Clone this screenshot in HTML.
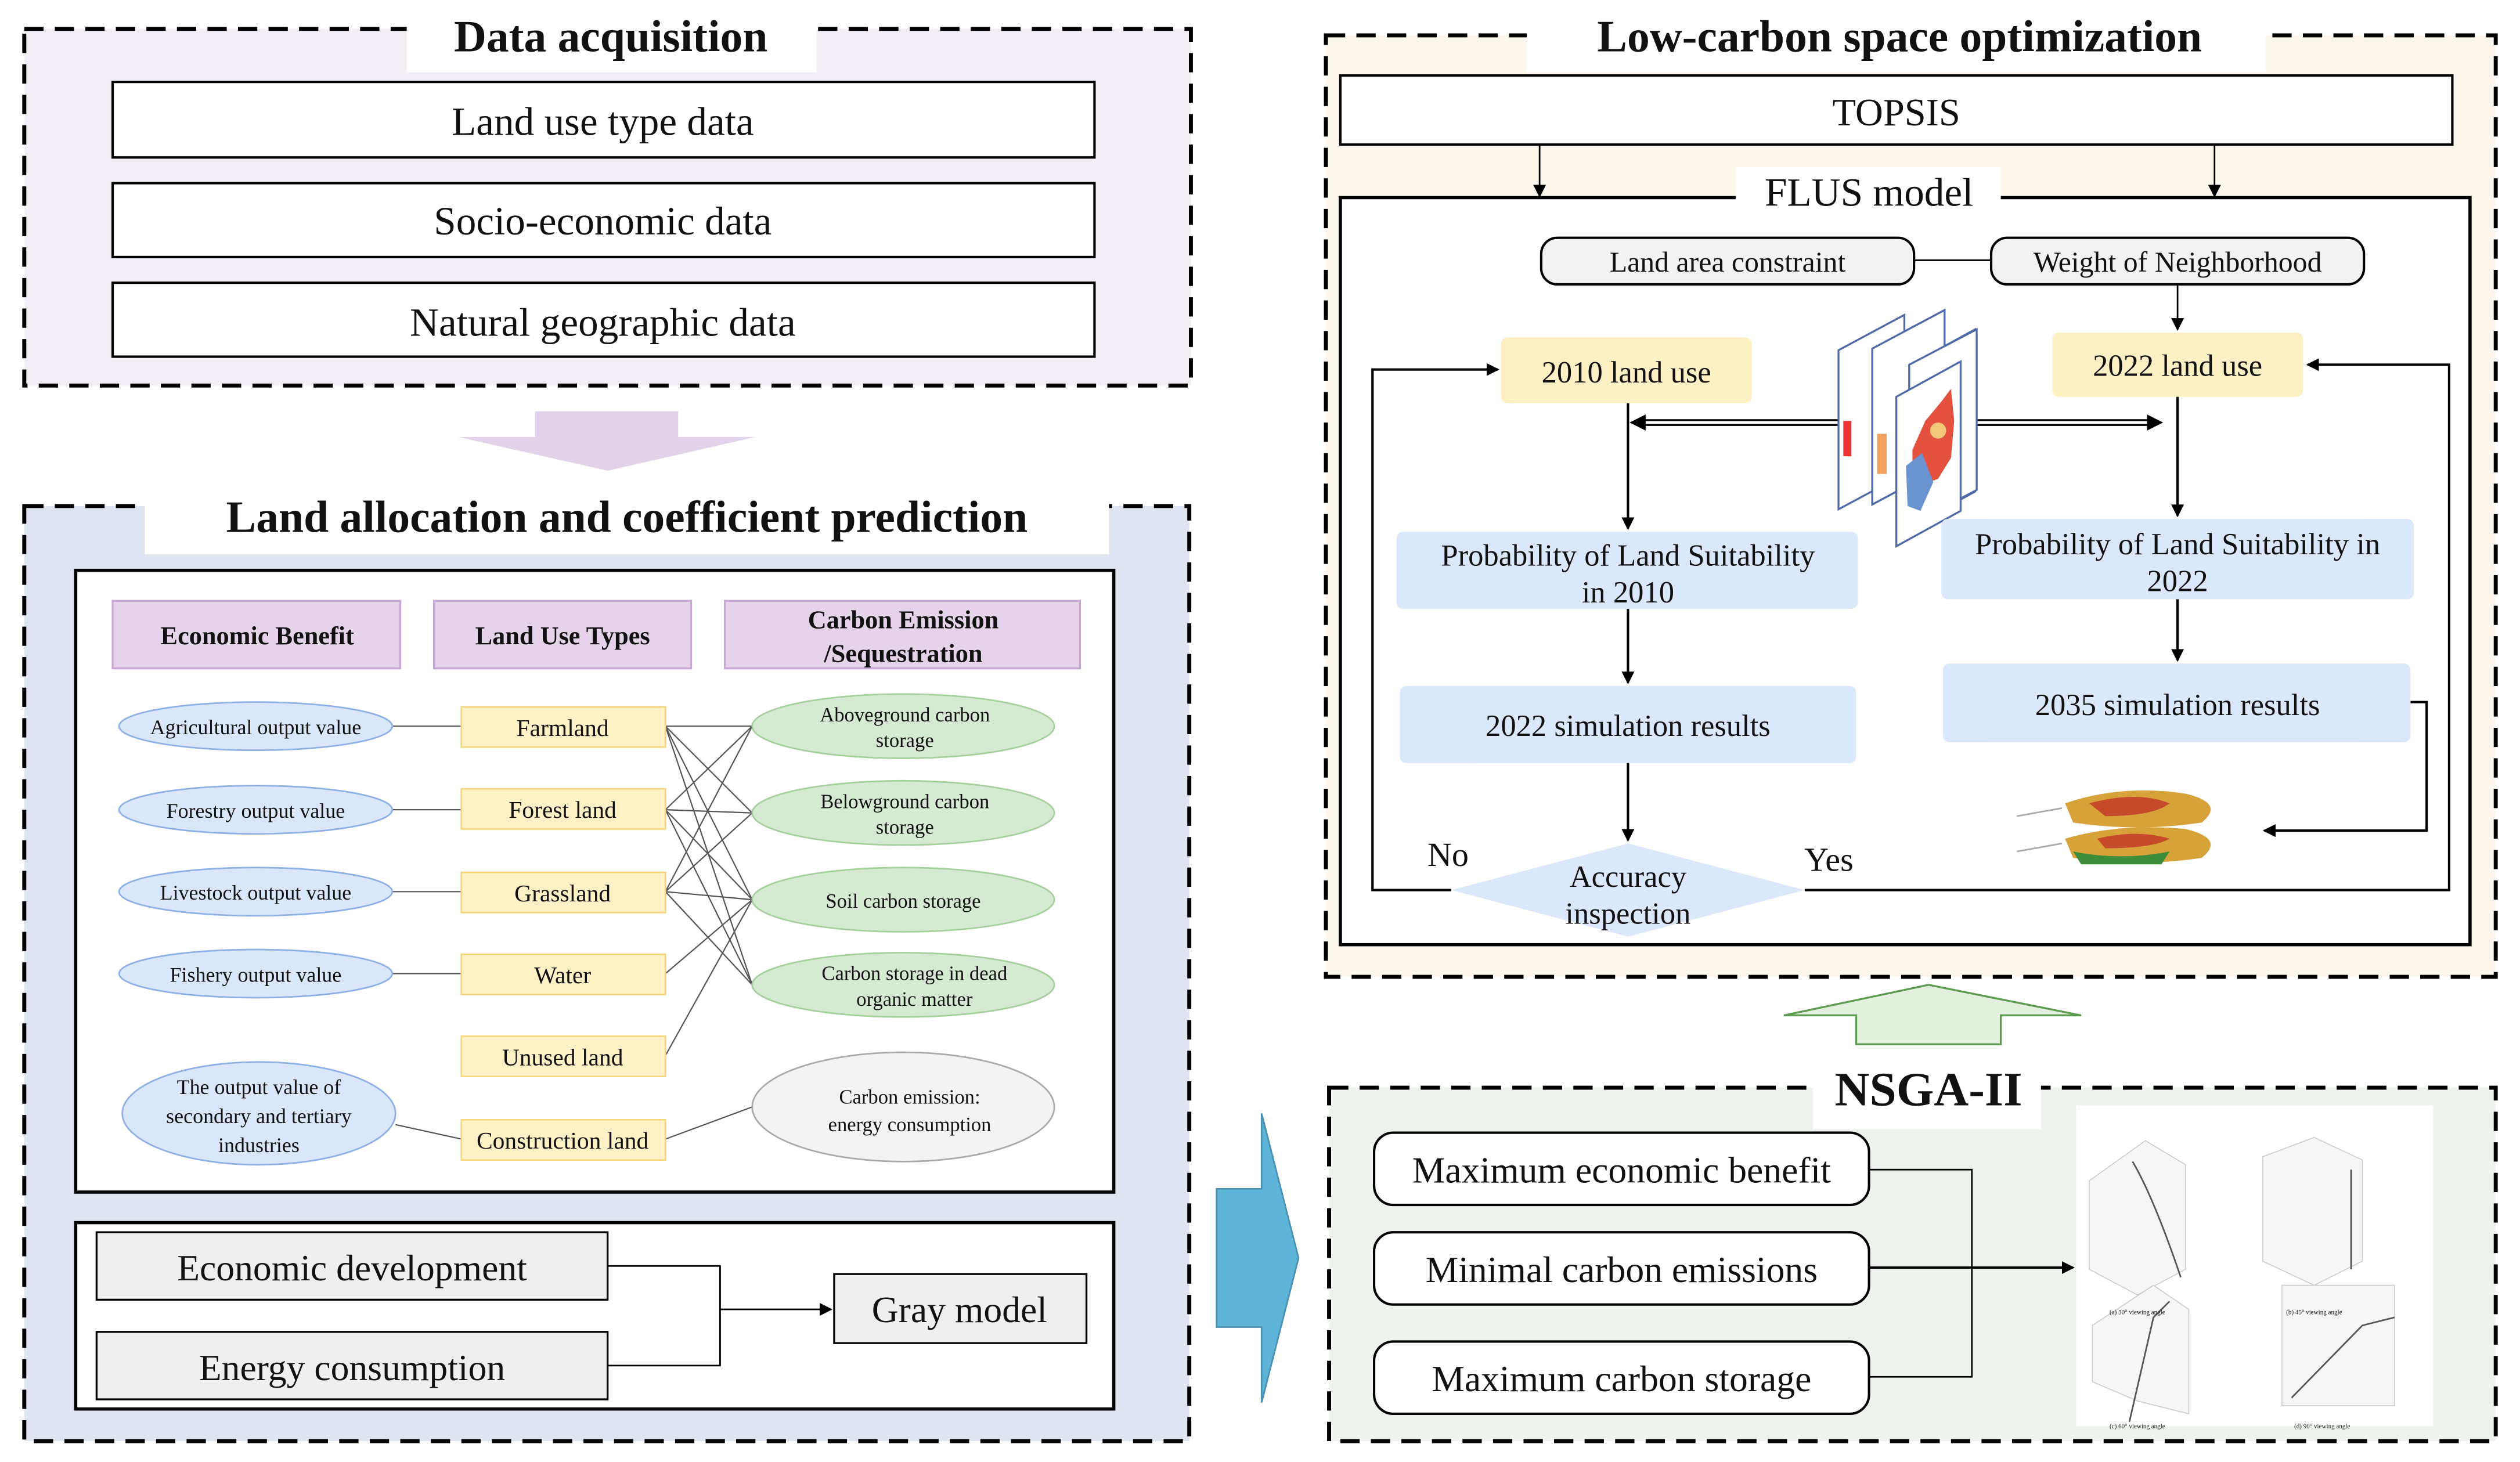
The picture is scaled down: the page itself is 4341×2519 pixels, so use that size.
<!DOCTYPE html>
<html><head><meta charset="utf-8"><style>
html,body{margin:0;padding:0;background:#fff;}
svg{display:block;}
svg text{font-family:"Liberation Serif","DejaVu Serif",serif;fill:#111;}
</style></head><body>
<svg width="4341" height="2519" viewBox="0 0 1568 910" xmlns="http://www.w3.org/2000/svg" font-family="Liberation Serif, DejaVu Serif, serif">
<defs>
<marker id="ar" markerWidth="8" markerHeight="8" refX="7" refY="4" orient="auto" markerUnits="userSpaceOnUse"><path d="M0,0 L8,4 L0,8 z" fill="#000"/></marker>
</defs>
<rect width="1568" height="910" fill="#fff"/>

<!-- Data acquisition -->
<rect x="15" y="18" width="726" height="222" fill="#f3eef6" stroke="#000" stroke-width="2.5" stroke-dasharray="12,7"/>
<rect x="253" y="0" width="255" height="45" fill="#fff"/>
<text x="380" y="32" font-size="28" font-weight="bold" text-anchor="middle">Data acquisition</text>
<g fill="#fff" stroke="#000" stroke-width="1.5">
<rect x="70" y="51" width="611" height="47"/><rect x="70" y="114" width="611" height="46"/><rect x="70" y="176" width="611" height="46"/></g>
<g font-size="25" text-anchor="middle"><text x="375" y="84">Land use type data</text><text x="375" y="146">Socio-economic data</text><text x="375" y="209">Natural geographic data</text></g>

<polygon points="333,256 422,256 422,272 470,272 378,293 285,272 333,272" fill="#e2d3ea"/>

<!-- Land allocation -->
<rect x="15" y="315" width="725" height="582" fill="#dfe5f0" stroke="#000" stroke-width="2.5" stroke-dasharray="12,7"/>
<rect x="90" y="300" width="600" height="45" fill="#fff"/>
<text x="390" y="331" font-size="28" font-weight="bold" text-anchor="middle">Land allocation and coefficient prediction</text>
<rect x="47" y="355" width="646" height="387" fill="#fff" stroke="#000" stroke-width="2"/>
<g fill="#e5d4e9" stroke="#c9a6d3" stroke-width="1.2">
<rect x="70" y="374" width="179" height="42"/><rect x="270" y="374" width="160" height="42"/><rect x="451" y="374" width="221" height="42"/></g>
<g font-size="16" font-weight="bold" text-anchor="middle"><text x="160" y="401">Economic Benefit</text><text x="350" y="401">Land Use Types</text><text x="562" y="391">Carbon Emission</text><text x="562" y="412">/Sequestration</text></g>

<g stroke="#555" stroke-width="0.8">
<line x1="244" y1="452" x2="287" y2="452"/><line x1="244" y1="504" x2="287" y2="504"/><line x1="244" y1="555" x2="287" y2="555"/><line x1="244" y1="606" x2="287" y2="606"/><line x1="246" y1="700" x2="287" y2="709"/>
<line x1="414" y1="452" x2="468" y2="452"/><line x1="414" y1="452" x2="468" y2="506"/><line x1="414" y1="452" x2="468" y2="560"/><line x1="414" y1="452" x2="468" y2="613"/>
<line x1="414" y1="504" x2="468" y2="452"/><line x1="414" y1="504" x2="468" y2="506"/><line x1="414" y1="504" x2="468" y2="560"/><line x1="414" y1="504" x2="468" y2="613"/>
<line x1="414" y1="555" x2="468" y2="452"/><line x1="414" y1="555" x2="468" y2="506"/><line x1="414" y1="555" x2="468" y2="560"/><line x1="414" y1="555" x2="468" y2="613"/>
<line x1="414" y1="606" x2="468" y2="560"/><line x1="414" y1="657" x2="468" y2="560"/><line x1="414" y1="709" x2="468" y2="689"/>
</g>
<g fill="#dae6fa" stroke="#8eb0e5" stroke-width="1">
<ellipse cx="159" cy="452" rx="85" ry="15"/><ellipse cx="159" cy="504" rx="85" ry="15"/><ellipse cx="159" cy="555" rx="85" ry="15"/><ellipse cx="159" cy="606" rx="85" ry="15"/><ellipse cx="161" cy="693" rx="85" ry="32"/></g>
<g font-size="13" text-anchor="middle"><text x="159" y="457">Agricultural output value</text><text x="159" y="509">Forestry output value</text><text x="159" y="560">Livestock output value</text><text x="159" y="611">Fishery output value</text>
<text x="161" y="681">The output value of</text><text x="161" y="699">secondary and tertiary</text><text x="161" y="717">industries</text></g>
<g fill="#fff1c6" stroke="#f5d67d" stroke-width="1">
<rect x="287" y="440" width="127" height="25"/><rect x="287" y="491" width="127" height="25"/><rect x="287" y="543" width="127" height="25"/><rect x="287" y="594" width="127" height="25"/><rect x="287" y="645" width="127" height="25"/><rect x="287" y="697" width="127" height="25"/></g>
<g font-size="15" text-anchor="middle"><text x="350" y="458">Farmland</text><text x="350" y="509">Forest land</text><text x="350" y="561">Grassland</text><text x="350" y="612">Water</text><text x="350" y="663">Unused land</text><text x="350" y="715">Construction land</text></g>
<g fill="#d6e9d2" stroke="#a6d09e" stroke-width="1">
<ellipse cx="562" cy="452" rx="94" ry="20"/><ellipse cx="562" cy="506" rx="94" ry="20"/><ellipse cx="562" cy="560" rx="94" ry="20"/><ellipse cx="562" cy="613" rx="94" ry="20"/></g>
<ellipse cx="562" cy="689" rx="94" ry="34" fill="#f3f3f3" stroke="#aaa" stroke-width="1"/>
<g font-size="12.5" text-anchor="middle"><text x="563" y="449">Aboveground carbon</text><text x="563" y="465">storage</text><text x="563" y="503">Belowground carbon</text><text x="563" y="519">storage</text><text x="562" y="565">Soil carbon storage</text><text x="569" y="610">Carbon storage in dead</text><text x="569" y="626">organic matter</text><text x="566" y="687">Carbon emission:</text><text x="566" y="704">energy consumption</text></g>

<rect x="47" y="761" width="646" height="116" fill="#fff" stroke="#000" stroke-width="2"/>
<g fill="#efefef" stroke="#000" stroke-width="1.2"><rect x="60" y="767" width="318" height="42"/><rect x="60" y="829" width="318" height="42"/></g>
<rect x="519" y="793" width="157" height="43" fill="#efefef" stroke="#000" stroke-width="1.2"/>
<g font-size="23" text-anchor="middle"><text x="219" y="797">Economic development</text><text x="219" y="859">Energy consumption</text><text x="597" y="823">Gray model</text></g>
<polyline points="378,788 448,788 448,850 378,850" fill="none" stroke="#000" stroke-width="1"/>
<line x1="448" y1="815" x2="517" y2="815" stroke="#000" stroke-width="1" marker-end="url(#ar)"/>

<polygon points="757,740 785,740 785,693 808,783 785,873 785,826 757,826" fill="#5eb4d6" stroke="#4a90b0" stroke-width="1"/>

<!-- Low-carbon -->
<rect x="825" y="22" width="728" height="586" fill="#fdf6ec" stroke="#000" stroke-width="2.5" stroke-dasharray="12,7"/>
<rect x="950" y="0" width="460" height="45" fill="#fff"/>
<text x="1182" y="32" font-size="28" font-weight="bold" text-anchor="middle">Low-carbon space optimization</text>
<rect x="834" y="47" width="692" height="43" fill="#fff" stroke="#000" stroke-width="1.5"/>
<text x="1180" y="78" font-size="24" text-anchor="middle">TOPSIS</text>
<rect x="834" y="123" width="703" height="465" fill="#fff" stroke="#000" stroke-width="2"/>
<line x1="958" y1="90" x2="958" y2="122" stroke="#000" marker-end="url(#ar)"/>
<line x1="1378" y1="90" x2="1378" y2="122" stroke="#000" marker-end="url(#ar)"/>
<rect x="1080" y="104" width="165" height="30" fill="#fff"/>
<text x="1163" y="128" font-size="25" text-anchor="middle">FLUS model</text>
<g fill="#f2f2f2" stroke="#000" stroke-width="1.5"><rect x="959" y="148" width="232" height="29" rx="10"/><rect x="1239" y="148" width="232" height="29" rx="10"/></g>
<line x1="1191" y1="162" x2="1239" y2="162" stroke="#000"/>
<g font-size="18" text-anchor="middle"><text x="1075" y="169">Land area constraint</text><text x="1355" y="169">Weight of Neighborhood</text></g>
<line x1="1355" y1="177" x2="1355" y2="205" stroke="#000" marker-end="url(#ar)"/>
<g fill="#fdf0c4"><rect x="934" y="210" width="156" height="41" rx="4"/><rect x="1277" y="207" width="156" height="40" rx="4"/></g>
<g font-size="19" text-anchor="middle"><text x="1012" y="238">2010 land use</text><text x="1355" y="234">2022 land use</text></g>
<!-- double line -->
<g stroke="#000" stroke-width="1.2">
<line x1="1022" y1="261.5" x2="1144" y2="261.5"/><line x1="1022" y1="264.5" x2="1144" y2="264.5"/>
<line x1="1220" y1="261.5" x2="1338" y2="261.5"/><line x1="1220" y1="264.5" x2="1338" y2="264.5"/>
</g>
<path d="M1014,263 L1024,258 L1024,268 z" fill="#000"/><path d="M1346,263 L1336,258 L1336,268 z" fill="#000"/>
<!-- map stack -->
<g stroke="#4f6aa8" stroke-width="1.2" fill="#fff">
<polygon points="1165,217 1210,193 1210,290 1165,314"/>
<polygon points="1189,227 1229,205 1229,306 1189,328"/>
</g>
<g stroke="#4f6aa8" stroke-width="1.2" fill="#fff">
<polygon points="1144,218 1185,196 1185,295 1144,317"/>
</g>
<g stroke="#4f6aa8" stroke-width="1.2" fill="#fff">
<polygon points="1165,217 1210,193 1210,290 1165,314"/>
</g>
<g stroke="#4f6aa8" stroke-width="1.2" fill="#fff">
<polygon points="1188,227 1230,205 1230,305 1188,327"/>
</g>
<g stroke="#4f6aa8" stroke-width="1.2" fill="#fff">
<polygon points="1180,247 1220,225 1220,318 1180,340"/>
</g>
<path d="M1190,280 L1198,262 L1208,250 L1214,242 L1216,262 L1214,285 L1206,298 L1196,302 L1190,300 Z" fill="#e4523f"/>
<path d="M1186,290 L1196,282 L1203,300 L1195,318 L1187,315 Z" fill="#6b93cf"/>
<circle cx="1206" cy="268" r="5" fill="#f3c879"/>
<rect x="1147" y="262" width="5" height="22" fill="#e33"/>
<rect x="1168" y="270" width="6" height="25" fill="#f0a060"/>

<line x1="1013" y1="251" x2="1013" y2="329" stroke="#000" stroke-width="1.5" marker-end="url(#ar)"/>
<line x1="1355" y1="247" x2="1355" y2="321" stroke="#000" stroke-width="1.5" marker-end="url(#ar)"/>
<g fill="#dbe8fb"><rect x="869" y="331" width="287" height="48" rx="4"/><rect x="1208" y="323" width="294" height="50" rx="4"/><rect x="871" y="427" width="284" height="48" rx="4"/><rect x="1209" y="413" width="291" height="49" rx="4"/></g>
<g font-size="19" text-anchor="middle"><text x="1013" y="352">Probability of Land Suitability</text><text x="1013" y="375">in 2010</text><text x="1355" y="345">Probability of Land Suitability in</text><text x="1355" y="368">2022</text><text x="1013" y="458">2022 simulation results</text><text x="1355" y="445">2035 simulation results</text></g>
<line x1="1013" y1="379" x2="1013" y2="425" stroke="#000" stroke-width="1.5" marker-end="url(#ar)"/>
<line x1="1355" y1="373" x2="1355" y2="411" stroke="#000" stroke-width="1.5" marker-end="url(#ar)"/>
<line x1="1013" y1="475" x2="1013" y2="523" stroke="#000" stroke-width="1.5" marker-end="url(#ar)"/>
<polygon points="1013,525 1123,554 1013,583 903,554" fill="#dbe8fb"/>
<g font-size="19" text-anchor="middle"><text x="1013" y="552">Accuracy</text><text x="1013" y="575">inspection</text></g>
<text x="901" y="539" font-size="21" text-anchor="middle">No</text>
<text x="1138" y="542" font-size="21" text-anchor="middle">Yes</text>
<polyline points="903,554 854,554 854,230 932,230" fill="none" stroke="#000" stroke-width="1.5" marker-end="url(#ar)"/>
<polyline points="1123,554 1524,554 1524,227 1436,227" fill="none" stroke="#000" stroke-width="1.5" marker-end="url(#ar)"/>
<polyline points="1500,437 1510,437 1510,517 1409,517" fill="none" stroke="#000" stroke-width="1.5" marker-end="url(#ar)"/>
<!-- small maps -->
<g>
<path d="M1285,500 Q1320,488 1360,494 Q1385,500 1370,512 Q1330,518 1290,512 Z" fill="#d7a23a"/>
<path d="M1300,500 Q1330,492 1350,500 Q1340,508 1310,508 Z" fill="#c44a2a"/>
<path d="M1285,522 Q1320,512 1360,516 Q1385,522 1370,534 Q1330,540 1290,534 Z" fill="#d7a23a"/>
<path d="M1290,530 Q1320,536 1350,530 L1345,538 L1295,538 Z" fill="#3d8c3a"/>
<path d="M1305,522 Q1330,516 1350,522 Q1340,528 1310,528 Z" fill="#c44a2a"/>
<line x1="1255" y1="508" x2="1283" y2="503" stroke="#aaa"/><line x1="1255" y1="530" x2="1283" y2="525" stroke="#aaa"/>
</g>

<polygon points="1110,632 1200,613 1295,632 1245,632 1245,650 1155,650 1155,632" fill="#e3f0dd" stroke="#5e9a52" stroke-width="1.2"/>

<!-- NSGA-II -->
<rect x="827" y="677" width="726" height="220" fill="#eef4ed" stroke="#000" stroke-width="2.5" stroke-dasharray="12,7"/>
<rect x="1128" y="655" width="142" height="48" fill="#fff"/>
<text x="1200" y="688" font-size="30" font-weight="bold" text-anchor="middle">NSGA-II</text>
<g fill="#fff" stroke="#000" stroke-width="1.5"><rect x="855" y="705" width="308" height="45" rx="12"/><rect x="855" y="767" width="308" height="45" rx="12"/><rect x="855" y="835" width="308" height="45" rx="12"/></g>
<g font-size="23" text-anchor="middle"><text x="1009" y="736">Maximum economic benefit</text><text x="1009" y="798">Minimal carbon emissions</text><text x="1009" y="866">Maximum carbon storage</text></g>
<polyline points="1163,728 1227,728 1227,857 1163,857" fill="none" stroke="#000" stroke-width="1"/>
<line x1="1163" y1="789" x2="1290" y2="789" stroke="#000" stroke-width="1.5" marker-end="url(#ar)"/>
<rect x="1292" y="688" width="222" height="200" fill="#fff"/>
<g stroke="#ccc" stroke-width="0.6" fill="#f6f6f6">
<polygon points="1300,735 1335,710 1360,725 1360,790 1330,806 1300,790"/>
<polygon points="1408,720 1440,708 1470,722 1470,785 1440,800 1408,785"/>
<polygon points="1302,825 1340,800 1362,815 1362,880 1330,872 1302,860"/>
<rect x="1420" y="800" width="70" height="75"/>
</g>
<g stroke="#555" stroke-width="1" fill="none">
<path d="M1327,723 Q1340,745 1357,795"/><path d="M1463,728 L1463,790"/><path d="M1325,885 L1340,820 L1350,810"/><path d="M1426,870 L1470,825 L1490,820"/>
</g>
<g font-size="4" text-anchor="middle" fill="#555"><text x="1330" y="818">(a) 30° viewing angle</text><text x="1440" y="818">(b) 45° viewing angle</text><text x="1330" y="889">(c) 60° viewing angle</text><text x="1445" y="889">(d) 90° viewing angle</text></g>
</svg>
</body></html>
